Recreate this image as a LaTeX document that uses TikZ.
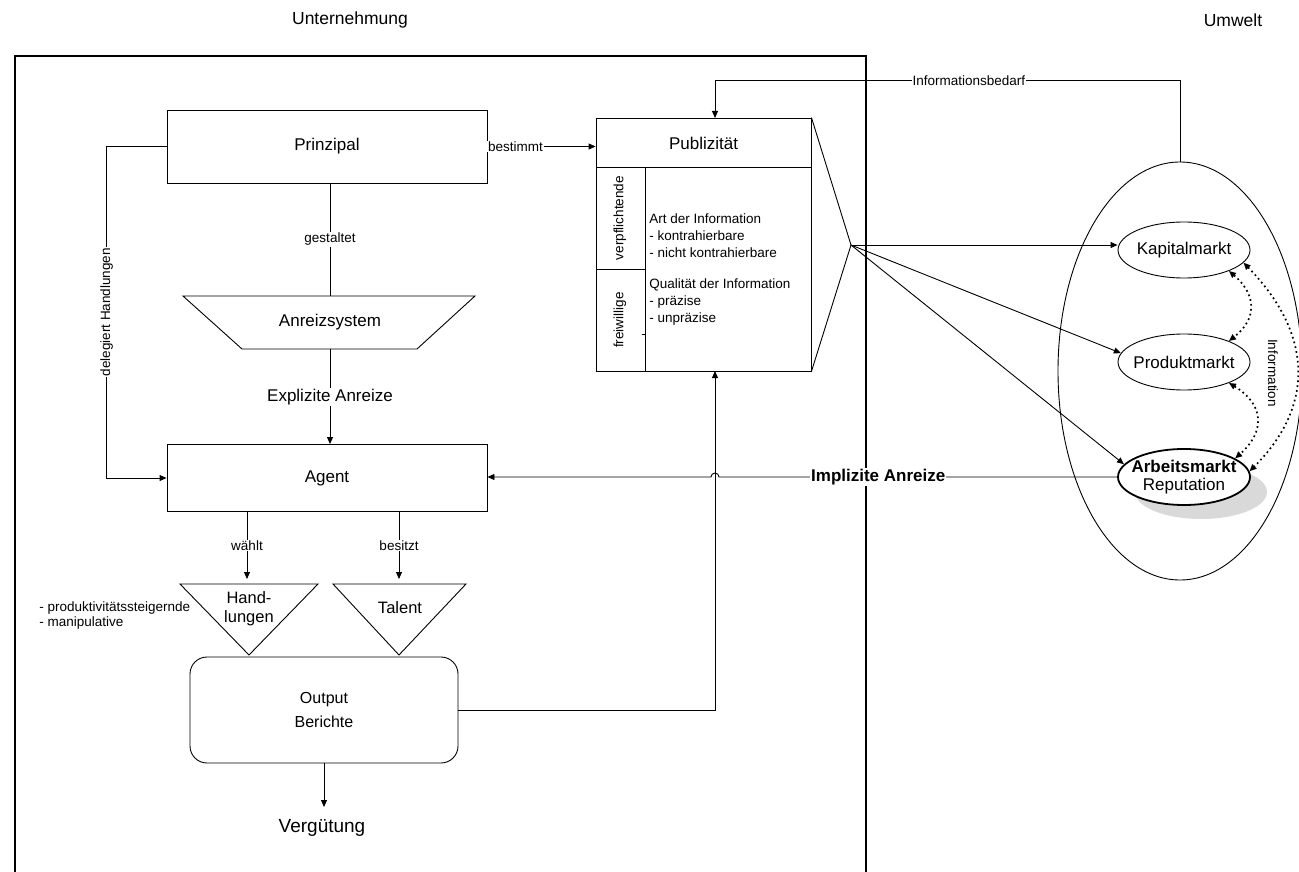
\documentclass[tikz,border=0pt]{standalone}
\usepackage{fontspec}
\setmainfont{Liberation Sans}
\usetikzlibrary{arrows.meta,shapes.geometric}
\begin{document}
\begin{tikzpicture}[x=1pt,y=-1pt, line width=0.9pt,
  arr/.style={-{Triangle[length=7pt,width=6pt]}},
  dotarr/.style={{Triangle[length=7pt,width=6pt]}-{Triangle[length=7pt,width=6pt]}, line width=1.7pt, dash pattern=on 1.7pt off 3.2pt},
  bigf/.style={font=\fontsize{17}{20}\selectfont},
  smallf/.style={font=\fontsize{13.5}{16}\selectfont},
  box/.style={draw, inner sep=0pt, bigf},
  lbl/.style={fill=white, inner sep=1pt, smallf},
  mkt/.style={draw, ellipse, inner sep=0pt, minimum width=132, minimum height=56, fill=white},
]
\useasboundingbox (0,0) rectangle (1299,872);

% headers
\node[font=\fontsize{17.5}{20}\selectfont] (hU) at (350,20) {Unternehmung};
\node[font=\fontsize{17.5}{20}\selectfont] (hW) at (1233,20) {Umwelt};

% frame of the firm
\draw[line width=1.1pt] (15,873) -- (15,56) -- (866,56) -- (866,873);

% Prinzipal, Anreizsystem, Agent
\node[box, minimum width=320, minimum height=73] (prin) at (327,146.5) {Prinzipal};
\draw (183,296) -- (475,296) -- (417,349) -- (242,349) -- cycle;
\node[bigf, inner sep=0pt, minimum width=175, minimum height=53] (anr) at (330,322.5) {Anreizsystem};
\node[box, minimum width=320, minimum height=67] (agent) at (327,478) {Agent};

\draw (prin.south -| anr.north) -- node[lbl]{gestaltet} (anr.north);
\draw[arr] (anr.south) -- node[fill=white, inner sep=1pt, bigf]{Explizite Anreize} (agent.north -| anr.south);
\draw[arr] (prin.west) -- ++(-60,0) |- node[lbl, pos=0.25, rotate=90]{delegiert Handlungen} (agent.west);

% Publizitaet
\node[draw, inner sep=0pt, minimum width=215, minimum height=253] (pub) at (703.5,244.5) {};
\node[bigf] (pubT) at (703.5,143) {Publizität};
\draw (596,167) -- (811,167);
\draw (645,167) -- (645,371);
\draw (596,269) -- (645,269);
\draw (642,334) -- (645,334);
\node[smallf, rotate=90] (verp) at (620,218) {verpflichtende};
\node[smallf, rotate=90] (frei) at (620,320) {freiwillige};
\node[anchor=west, align=left, font=\fontsize{13.5}{17}\selectfont, inner sep=0pt] (art) at (649,236) {Art der Information\\- kontrahierbare\\- nicht kontrahierbare};
\node[anchor=west, align=left, font=\fontsize{13.5}{17}\selectfont, inner sep=0pt] (qual) at (649,302) {Qualität der Information\\- präzise\\- unpräzise};

\draw[arr] (prin.east) -- node[lbl, pos=0.26]{bestimmt} (prin.east -| pub.west);

\coordinate (fan) at (851,245);
\draw (pub.north east) -- (fan) -- (pub.south east);

% Umwelt
\node[draw, ellipse, inner sep=0pt, minimum width=244, minimum height=418] (umw) at (1180,371) {};
\node[mkt, label={[bigf]center:Kapitalmarkt}] (kap) at (1184,250) {};
\node[mkt, label={[bigf]center:Produktmarkt}] (prod) at (1184,362) {};
\fill[gray!30] (1201,492) ellipse [x radius=66, y radius=27];
\node[mkt, line width=1.8pt, label={[font=\fontsize{17}{18.5}\selectfont, align=center]center:{\textbf{Arbeitsmarkt}\\Reputation}}] (arb) at (1184,477) {};

\draw[arr] (fan) -- (fan -| kap.west);
\draw[arr] (fan) -- (prod.172);
\draw[arr] (fan) -- (arb.168);

\draw[dotarr] (kap.-25) .. controls (1257,295) and (1257,319) .. (prod.25);
\draw[dotarr] (prod.-25) .. controls (1265,405) and (1265,432) .. (arb.20);
\draw[dotarr] (kap.-12) .. controls (1314,335) and (1314,407) .. (arb.5);
\node[smallf, rotate=-90] (info) at (1273,373) {Information};

% Implizite Anreize with jump
\draw[arr] (arb.west) -- node[pos=0.6, fill=white, inner sep=1pt, font=\fontsize{17}{20}\selectfont\bfseries]{Implizite Anreize} (719,477) arc[start angle=0, end angle=-180, radius=4] -- (agent.east |- arb.west);

% Informationsbedarf
\coordinate (pubIn) at (715,118);
\draw[arr] (umw.north) -- ++(0,-81) -| node[lbl, pos=0.227]{Informationsbedarf} (pubIn);

% Handlungen, Talent
\draw (180,584) -- (318,584) -- (249,655) -- cycle;
\draw (333,584) -- (466,584) -- (399,655) -- cycle;
\node[font=\fontsize{16.5}{19}\selectfont, align=center] (hand) at (249,608.5) {Hand-\\lungen};
\node[font=\fontsize{16.5}{19}\selectfont] (tal) at (400,608) {Talent};
\coordinate (handIn) at (247,579);
\coordinate (talIn) at (399,579);
\draw[arr] (agent.south -| handIn) -- node[lbl]{wählt} (handIn);
\draw[arr] (agent.south -| talIn) -- node[lbl]{besitzt} (talIn);
\node[anchor=west, align=left, font=\fontsize{13.5}{15}\selectfont, inner sep=0pt] (note) at (39,615.5) {- produktivitätssteigernde\\- manipulative};

% Output
\node[draw, rounded corners=17, minimum width=268, minimum height=106, inner sep=0pt, align=center, font=\fontsize{16}{23.5}\selectfont] (out) at (324,710) {Output\\Berichte};
\coordinate (pubOut) at (715,371);
\draw[arr] (out.east) -| (pubOut);

\node[font=\fontsize{19}{22}\selectfont] (verg) at (322,828) {Vergütung};
\coordinate (vIn) at (324,807);
\draw[arr] (out.south) -- (vIn);
\end{tikzpicture}
\end{document}
